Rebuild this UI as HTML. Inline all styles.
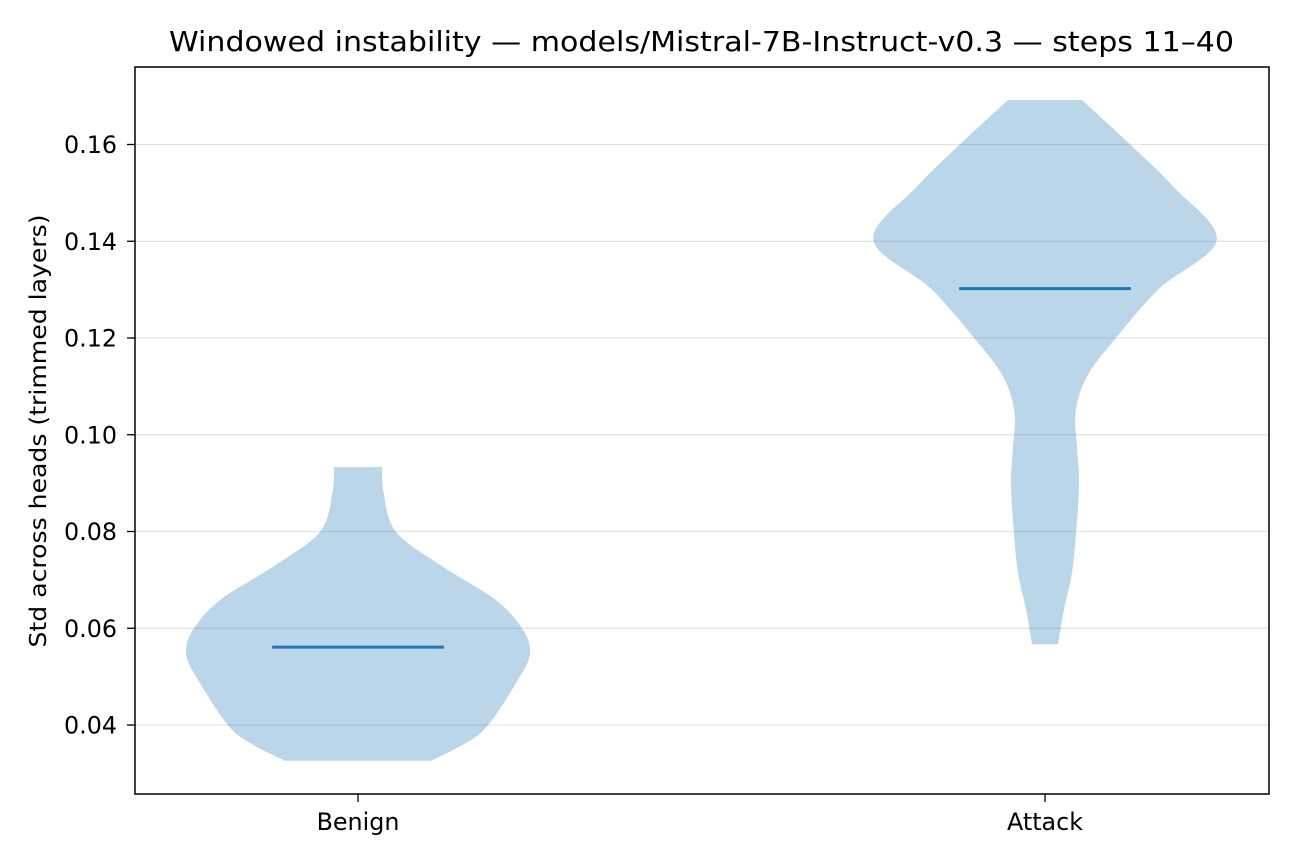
<!DOCTYPE html>
<html><head><meta charset="utf-8"><style>body{margin:0;background:#fff}svg{display:block;font-family:"DejaVu Sans","Liberation Sans",sans-serif}</style></head>
<body>
<svg id="chart" width="1296" height="864" viewBox="0 0 1296 864" xmlns="http://www.w3.org/2000/svg"></svg>
<script>
const categories = ["Benign", "Attack"];
const benignValues = [0.0933, 0.0880, 0.0799, 0.0727, 0.0658, 0.0596, 0.0545, 0.0487, 0.0400, 0.0363, 0.0326];
const benignDensity = [0.14, 0.149, 0.222, 0.496, 0.805, 0.962, 1.0, 0.921, 0.758, 0.63, 0.426];
const attackValues = [0.1692, 0.1600, 0.1513, 0.1403, 0.1302, 0.1198, 0.1121, 0.1047, 0.0973, 0.0898, 0.0797, 0.0714, 0.0640, 0.0567];
const attackDensity = [0.216, 0.496, 0.746, 1.0, 0.665, 0.408, 0.245, 0.178, 0.187, 0.198, 0.181, 0.157, 0.111, 0.076];
const medians = [0.0561, 0.1302];
const yTicks = [0.04, 0.06, 0.08, 0.10, 0.12, 0.14, 0.16];
const yTickLabels = ["0.04", "0.06", "0.08", "0.10", "0.12", "0.14", "0.16"];

const NS = "http://www.w3.org/2000/svg";
const svg = document.getElementById("chart");
const L = 135, R = 1269, T = 67, B = 794;
const yScale = v => 725 - (v - 0.04) / 0.02 * 96.75;
const xScale = i => 358 + i * 687;
const halfW = 171.75;
function mk(tag, attrs, parent) {
  const e = document.createElementNS(NS, tag);
  for (const k in attrs) e.setAttribute(k, attrs[k]);
  (parent || svg).appendChild(e);
  return e;
}
yTicks.forEach((t, i) => {
  const y = yScale(t);
  const g = mk("line", {x1: L, x2: R, y1: y, y2: y, stroke: "#e3e3e3", "stroke-width": 1.3});
  
  
  const tk = mk("line", {x1: L - 8, x2: L, y1: y, y2: y, stroke: "#000", "stroke-width": 1.3});
  
  
  const tx = mk("text", {x: L - 18, y: y + 8.5, "text-anchor": "end", "font-size": 23.8, fill: "#000"});
  tx.textContent = yTickLabels[i];
  
  
});
function spline(pts) {
  let d = "";
  for (let i = 0; i < pts.length - 1; i++) {
    const p0 = pts[Math.max(0, i - 1)], p1 = pts[i], p2 = pts[i + 1], p3 = pts[Math.min(pts.length - 1, i + 2)];
    const c1 = [p1[0] + (p2[0] - p0[0]) / 6, p1[1] + (p2[1] - p0[1]) / 6];
    const c2 = [p2[0] - (p3[0] - p1[0]) / 6, p2[1] - (p3[1] - p1[1]) / 6];
    d += ` C${c1[0]},${c1[1]} ${c2[0]},${c2[1]} ${p2[0]},${p2[1]}`;
  }
  return d;
}
function violin(idx, vals, dens, name) {
  const cx = xScale(idx);
  const right = vals.map((v, i) => [cx + dens[i] * halfW, yScale(v)]);
  const left = vals.map((v, i) => [cx - dens[i] * halfW, yScale(v)]).reverse();
  let d = `M${left[left.length - 1][0]},${left[left.length - 1][1]} L${right[0][0]},${right[0][1]}` + spline(right);
  d += ` L${left[0][0]},${left[0][1]}` + spline(left) + " Z";
  const p = mk("path", {d: d, fill: "#1f77b4", "fill-opacity": 0.3});
  
  
  const y = yScale(medians[idx]);
  const m = mk("line", {x1: cx - halfW / 2, x2: cx + halfW / 2, y1: y, y2: y, stroke: "#1f77b4", "stroke-width": 3});
  
  
}
violin(0, benignValues, benignDensity, "benign-violin");
violin(1, attackValues, attackDensity, "attack-violin");
categories.forEach((c, i) => {
  const x = xScale(i);
  const tk = mk("line", {x1: x, x2: x, y1: B, y2: B + 8, stroke: "#000", "stroke-width": 1.3});
  
  
  const tx = mk("text", {x: x, y: 830, "text-anchor": "middle", "font-size": 23.8, fill: "#000"});
  tx.textContent = c;
  
  
});
const frame = mk("rect", {x: L, y: T, width: R - L, height: B - T, fill: "none", stroke: "#000", "stroke-width": 1.5});


const title = mk("text", {x: 701.5, y: 51, "text-anchor": "middle", "font-size": 27.5, fill: "#000", textLength: 1065, lengthAdjust: "spacingAndGlyphs"});
title.textContent = "Windowed instability — models/Mistral-7B-Instruct-v0.3 — steps 11–40";


const yl = mk("text", {x: 0, y: 0, transform: "translate(46,431) rotate(-90)", "text-anchor": "middle", "font-size": 23, fill: "#000", textLength: 433, lengthAdjust: "spacingAndGlyphs"});
yl.textContent = "Std across heads (trimmed layers)";


</script>
</body></html>
